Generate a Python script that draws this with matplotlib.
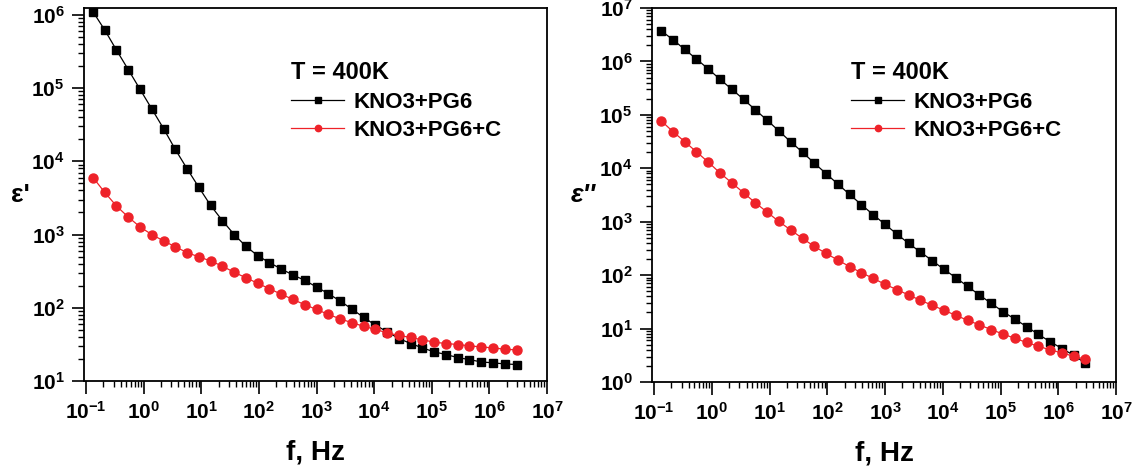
import numpy as np
import matplotlib as mpl
mpl.use('Agg')
import matplotlib.pyplot as plt
import matplotlib.ticker as mticker

#measurement frequencies (Hz), same for both samples
freq = [0.132, 0.211, 0.337, 0.541, 0.865, 1.38, 2.21, 3.54, 5.67, 9.08,
        14.5, 23.2, 37.2, 59.5, 95.2, 152, 244, 390, 625, 1000,
        1600, 2560, 4100, 6560, 10500, 16800, 26900, 43000, 68800, 110000,
        176000, 282000, 451000, 722000, 1.16e6, 1.85e6, 2.96e6]

#real part of permittivity
eps1_pg6 = [1.1e6, 6.2e5, 3.3e5, 1.78e5, 9.6e4, 5.2e4, 2.8e4, 1.45e4, 7.9e3, 4.4e3,
            2.5e3, 1.55e3, 1.0e3, 690, 515, 413, 339, 280, 237, 192,
            156, 124, 96, 74, 58, 47, 38, 32.5, 28.3, 25,
            23, 20.9, 19.6, 18.2, 17.7, 17.1, 16.8]
eps1_pg6c = [6.0e3, 3.76e3, 2.45e3, 1.73e3, 1.27e3, 1.0e3, 820, 679, 567, 495,
             436, 370, 305, 257, 216, 182, 153, 130, 110, 95,
             81, 70.8, 62.4, 56, 50.6, 45.5, 41.9, 39.3, 36.5, 33.9,
             32.5, 31.5, 30.2, 29.2, 28.3, 27.2, 26.6]

#imaginary part of permittivity
eps2_pg6 = [3.77e6, 2.56e6, 1.69e6, 1.11e6, 7.25e5, 4.65e5, 3.02e5, 1.96e5, 1.24e5, 7.94e4,
            5.0e4, 3.13e4, 2.0e4, 1.25e4, 7.95e3, 5.07e3, 3.24e3, 2.08e3, 1.35e3, 891,
            589, 393, 271, 187, 128, 89.8, 61.7, 42.6, 29.7, 20.8,
            15.1, 10.9, 7.8, 5.7, 4.23, 3.16, 2.25]
eps2_pg6c = [7.8e4, 4.87e4, 3.17e4, 2.03e4, 1.31e4, 8.2e3, 5.36e3, 3.48e3, 2.26e3, 1.51e3,
             1.01e3, 700, 488, 345, 255, 192, 144, 111, 87, 67.3,
             53.6, 42.6, 33.8, 27.3, 22, 17.7, 14.3, 11.7, 9.6, 7.9,
             6.6, 5.5, 4.67, 4.0, 3.5, 3.03, 2.65]

labels = ['KNO3+PG6', 'KNO3+PG6+C']
legend_title = 'T = 400K'
xlabel = 'f, Hz'

#decade exponents carrying a label on each axis
x_decades = [-1, 0, 1, 2, 3, 4, 5, 6, 7]
y1_decades = [1, 2, 3, 4, 5, 6]
y2_decades = [0, 1, 2, 3, 4, 5, 6, 7]

#global look: bold Arial-like text everywhere
mpl.rcParams.update({'font.family': 'Liberation Sans',
                     'font.weight': 'bold',
                     'mathtext.fontset': 'custom',
                     'mathtext.rm': 'Liberation Sans:bold',
                     'mathtext.bf': 'Liberation Sans:bold',
                     'mathtext.default': 'bf',
                     'axes.linewidth': 1.3})

red = '#ee2229'

#figure is 1133x469 px
fig_w, fig_h = 11.33, 4.69
fig = plt.figure(figsize=(fig_w, fig_h), dpi=100)

def px_axes(x0, x1, y0, y1):
    #axes from pixel edges (top-left origin)
    return fig.add_axes([x0/1133., 1. - y1/469., (x1-x0)/1133., (y1-y0)/469.])

def decade_fmt(val, pos):
    return r'$10^{%d}$' % int(round(np.log10(val)))

def setup_axes(ax, ylim, y_decades, ylabel, ylab_style, ylab_pad):
    ax.set_xscale('log')
    ax.set_yscale('log')
    ax.set_xlim(0.092, 1e7)
    ax.set_ylim(*ylim)
    #only decades inside the view get a major tick
    ax.xaxis.set_major_locator(mticker.FixedLocator([10.**d for d in x_decades]))
    ax.yaxis.set_major_locator(mticker.FixedLocator([10.**d for d in y_decades]))
    ax.xaxis.set_minor_locator(mticker.LogLocator(base=10, subs=np.arange(2, 10), numticks=20))
    ax.yaxis.set_minor_locator(mticker.LogLocator(base=10, subs=np.arange(2, 10), numticks=20))
    ax.xaxis.set_major_formatter(mticker.FuncFormatter(decade_fmt))
    ax.yaxis.set_major_formatter(mticker.FuncFormatter(decade_fmt))
    ax.xaxis.set_minor_formatter(mticker.NullFormatter())
    ax.yaxis.set_minor_formatter(mticker.NullFormatter())
    ax.tick_params(which='major', direction='out', length=9, width=1.2, labelsize=15, pad=5)
    ax.tick_params(which='minor', direction='out', length=4.5, width=1.0)
    ax.tick_params(top=False, right=False, which='both')
    ax.set_xlabel(xlabel, fontsize=20, fontweight='bold', labelpad=12)
    ax.set_ylabel(ylabel, fontsize=19, fontweight='bold', rotation=0,
                  fontstyle=ylab_style, labelpad=ylab_pad, va='center')

def plot_pair(ax, y_black, y_red, leg_x):
    ax.plot(freq, y_black, color='k', lw=0.9, marker='s', ms=5.6,
            mec='k', mfc='k', label=labels[0])
    ax.plot(freq, y_red, color=red, lw=0.9, marker='o', ms=6.5,
            mec=red, mfc=red, label=labels[1])
    leg = ax.legend(title=legend_title, frameon=False, loc='upper left',
                    bbox_to_anchor=(leg_x, 0.883), prop={'size': 16, 'weight': 'bold'},
                    title_fontproperties={'size': 17, 'weight': 'bold'},
                    alignment='left', handlelength=2.4, handletextpad=0.4,
                    labelspacing=0.3, markerscale=0.7, borderaxespad=0)
    leg._legend_box.sep = 6
    return leg

#left panel: real part
ax1 = px_axes(84, 547, 8, 381)
plot_pair(ax1, eps1_pg6, eps1_pg6c, 0.428)
setup_axes(ax1, (10, 1.24e6), y1_decades, "\u03b5'", 'normal', 8)

#right panel: imaginary part
ax2 = px_axes(652, 1116, 8, 382)
plot_pair(ax2, eps2_pg6, eps2_pg6c, 0.41)
setup_axes(ax2, (1, 1e7), y2_decades, "\u03b5''", 'italic', 11.5)

fig.savefig('out.png', dpi=100)
